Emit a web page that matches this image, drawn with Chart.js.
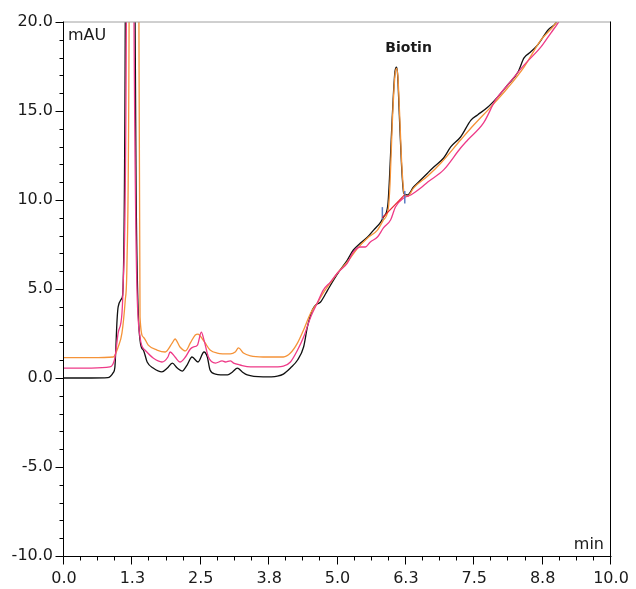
<!DOCTYPE html>
<html>
<head>
<meta charset="utf-8">
<script src="https://cdn.jsdelivr.net/npm/chart.js@4/dist/chart.umd.min.js"></script>
<style>
html,body{margin:0;padding:0;background:#fff;}
canvas{display:block;}
</style>
</head>
<body>
<canvas id="c" width="636" height="589"></canvas>
<script>
// ---- data (time in min, signal in mAU) ----
const blackT = [0.00,0.50,0.80,0.85,0.90,0.93,0.97,0.99,1.06,1.08,1.12,1.21,1.30,1.32,1.39,1.45,1.52,1.63,1.79,1.89,1.98,2.07,2.16,2.25,2.34,2.45,2.56,2.62,2.67,2.77,2.99,3.08,3.17,3.26,3.35,3.64,3.90,4.01,4.14,4.27,4.38,4.45,4.54,4.60,4.69,4.82,4.93,5.05,5.18,5.29,5.42,5.55,5.66,5.79,5.84,5.92,5.95,6.00,6.05,6.08,6.10,6.13,6.17,6.21,6.28,6.39,6.52,6.65,6.76,6.94,7.07,7.25,7.44,7.56,7.75,7.93,8.11,8.30,8.41,8.53,8.66,8.85,8.99,9.10];
const blackV = [0.00,0.00,0.02,0.10,0.30,0.60,3.26,3.99,4.49,5.11,20.0,150,20.0,10.0,2.13,1.57,0.90,0.56,0.34,0.56,0.84,0.56,0.39,0.73,1.18,0.90,1.46,1.18,0.45,0.22,0.17,0.34,0.56,0.34,0.17,0.06,0.11,0.22,0.56,1.01,1.74,2.87,3.82,4.10,4.27,4.94,5.51,6.07,6.63,7.19,7.58,7.92,8.31,8.76,9.04,9.72,11.2,14.6,17.2,17.47,17.0,14.8,12.0,10.39,10.28,10.73,11.12,11.52,11.85,12.36,12.98,13.54,14.49,14.78,15.22,15.79,16.46,17.19,17.98,18.31,18.71,19.55,19.94,20.6];

const orangeT = [0.00,0.50,0.90,0.99,1.06,1.12,1.15,1.19,1.28,1.37,1.39,1.45,1.54,1.70,1.85,1.98,2.03,2.12,2.22,2.31,2.40,2.45,2.53,2.58,2.67,2.80,3.04,3.13,3.19,3.28,3.41,3.64,4.01,4.14,4.27,4.38,4.51,4.63,4.74,4.87,5.00,5.18,5.37,5.55,5.73,5.84,5.93,5.96,6.00,6.05,6.08,6.105,6.135,6.175,6.22,6.28,6.39,6.65,6.89,7.25,7.49,7.80,8.11,8.41,8.72,8.99,9.10];
const orangeV = [1.14,1.14,1.18,1.74,2.53,4.38,6.24,20.0,150,20.0,3.43,2.30,1.85,1.57,1.46,1.97,2.19,1.74,1.52,1.97,2.42,2.47,2.19,1.97,1.57,1.40,1.35,1.46,1.69,1.40,1.24,1.18,1.18,1.40,1.97,2.70,3.65,4.21,4.78,5.34,5.90,6.52,7.30,7.87,8.31,8.88,9.55,10.9,14.2,17.0,17.4,16.9,14.9,12.0,10.35,10.2,10.67,11.35,12.08,13.37,14.21,15.22,16.29,17.47,18.99,19.94,20.6];

const pinkT = [0.00,0.50,0.84,0.93,0.99,1.06,1.08,1.14,1.21,1.28,1.39,1.48,1.63,1.79,1.90,1.94,2.03,2.12,2.22,2.31,2.36,2.44,2.51,2.56,2.64,2.77,2.89,2.95,3.04,3.10,3.22,3.41,3.77,4.01,4.14,4.27,4.38,4.51,4.63,4.74,4.87,5.00,5.18,5.29,5.42,5.51,5.60,5.73,5.84,5.97,6.06,6.21,6.34,6.52,6.65,6.94,7.25,7.38,7.67,7.89,8.11,8.41,8.72,8.90,9.03,9.15];
const pinkV = [0.56,0.56,0.62,1.12,2.53,3.65,5.11,20.0,150,20.0,2.30,1.57,1.12,0.90,1.18,1.46,1.18,0.90,1.18,1.63,1.74,1.85,2.58,2.13,1.18,0.84,0.96,0.90,0.96,0.84,0.73,0.62,0.62,0.67,0.90,1.57,2.30,3.43,4.21,4.94,5.39,5.90,6.46,7.08,7.36,7.36,7.64,7.92,8.43,8.88,9.61,10.11,10.28,10.67,11.01,11.69,12.92,13.37,14.33,15.62,16.46,17.58,18.60,19.38,19.94,20.6];

// integration baseline and delimiters of the Biotin peak
const baseT = [5.82,6.23];
const baseV = [9.0,10.3];
const mark1T = [5.82,5.82], mark1V = [8.9,9.6];
const mark2T = [6.23,6.23], mark2V = [9.8,10.5];

const peakLabels = ['Biotin'];
const peakT = [6.08];
const peakV = [17.47];

const xMajorTicks = [0,1.25,2.5,3.75,5,6.25,7.5,8.75,10];
const xTickLabels = ['0.0','1.3','2.5','3.8','5.0','6.3','7.5','8.8','10.0'];
const xMinorStep = 0.3125;
const yMajorTicks = [-10,-5,0,5,10,15,20];
const yTickLabels = ['-10.0','-5.0','0.0','5.0','10.0','15.0','20.0'];
const yMinorStep = 1;
const yUnit = 'mAU', xUnit = 'min';

const pts = (t, v) => t.map((x, i) => ({x: x, y: v[i]}));

const FONT = '"DejaVu Sans", "Liberation Sans", Arial, sans-serif';
const TXT = '#1a1a1a';

const decor = {
  id: 'decor',
  afterDraw(chart) {
    const ctx = chart.ctx, a = chart.chartArea;
    const xs = chart.scales.x, ys = chart.scales.y;
    const L = Math.round(a.left) - 0.5, R = Math.round(a.right) - 0.5;
    const T = Math.round(a.top) + 0.5, B = Math.round(a.bottom) + 0.5;
    ctx.save();
    ctx.lineWidth = 1;
    // frame
    ctx.strokeStyle = '#a0a0a0';
    ctx.beginPath(); ctx.moveTo(L, T - 0.5); ctx.lineTo(R, T - 0.5); ctx.stroke();
    ctx.strokeStyle = '#000';
    ctx.beginPath();
    ctx.moveTo(L, T - 1); ctx.lineTo(L, B);
    ctx.lineTo(R + 1, B);
    ctx.moveTo(R, T - 1); ctx.lineTo(R, B);
    ctx.stroke();
    // ticks
    ctx.beginPath();
    for (let v = xs.min; v <= xs.max + 1e-9; v += xMinorStep) {
      const px = Math.round(xs.getPixelForValue(v)) - 0.5;
      const major = xMajorTicks.some(m => Math.abs(m - v) < 1e-6);
      ctx.moveTo(px, B); ctx.lineTo(px, B + (major ? 8 : 4));
    }
    for (let v = ys.min; v <= ys.max + 1e-9; v += yMinorStep) {
      const py = Math.round(ys.getPixelForValue(v)) + 0.5;
      const major = yMajorTicks.some(m => Math.abs(m - v) < 1e-6);
      ctx.moveTo(L, py); ctx.lineTo(L - (major ? 8 : 4), py);
    }
    ctx.stroke();
    // unit labels
    ctx.fillStyle = TXT;
    ctx.font = '16px ' + FONT;
    ctx.textBaseline = 'middle';
    ctx.textAlign = 'left';
    ctx.fillText(yUnit, a.left + 4, a.top + 14);
    ctx.textAlign = 'right';
    ctx.fillText(xUnit, a.right - 7, a.bottom - 11);
    // peak labels
    ctx.font = 'bold 14px ' + FONT;
    ctx.textAlign = 'center';
    peakLabels.forEach((s, i) => {
      ctx.fillText(s, xs.getPixelForValue(peakT[i]) + 12, ys.getPixelForValue(peakV[i]) - 19);
    });
    ctx.restore();
  }
};

const line = (data, color, w) => ({
  data: data, borderColor: color, borderWidth: w, pointRadius: 0,
  fill: false, tension: 0, cubicInterpolationMode: 'monotone'
});

new Chart(document.getElementById('c'), {
  type: 'line',
  data: {
    datasets: [
      Object.assign(line(pts(baseT, baseV), '#e8202a', 1.2), {cubicInterpolationMode: 'default'}),
      Object.assign(line(pts(mark1T, mark1V), '#5a7cc4', 1.5), {cubicInterpolationMode: 'default'}),
      Object.assign(line(pts(mark2T, mark2V), '#5a7cc4', 1.5), {cubicInterpolationMode: 'default'}),
      line(pts(pinkT, pinkV), '#ee3a88', 1.3),
      line(pts(orangeT, orangeV), '#f59338', 1.3),
      line(pts(blackT, blackV), '#111111', 1.3)
    ]
  },
  options: {
    responsive: false,
    animation: false,
    layout: {padding: {top: 22, right: 25, left: 0, bottom: 0}},
    plugins: {legend: {display: false}, tooltip: {enabled: false}},
    scales: {
      x: {
        type: 'linear', min: 0, max: 10,
        afterFit(s) { s.height = 33; s.paddingLeft = 0; s.paddingRight = 0; },
        afterBuildTicks(s) { s.ticks = xMajorTicks.map(v => ({value: v})); },
        grid: {display: false, drawTicks: false},
        border: {display: false},
        ticks: {
          autoSkip: false, maxRotation: 0, padding: 13, color: TXT,
          font: {family: FONT, size: 16},
          callback: (v) => { const i = xMajorTicks.indexOf(v); return i >= 0 ? xTickLabels[i] : ''; }
        }
      },
      y: {
        type: 'linear', min: -10, max: 20,
        afterFit(s) { s.width = 64; s.paddingTop = 0; s.paddingBottom = 0; },
        afterBuildTicks(s) { s.ticks = yMajorTicks.map(v => ({value: v})); },
        grid: {display: false, drawTicks: false},
        border: {display: false},
        ticks: {
          autoSkip: false, padding: 11, color: TXT,
          font: {family: FONT, size: 16},
          callback: (v) => { const i = yMajorTicks.indexOf(v); return i >= 0 ? yTickLabels[i] : ''; }
        }
      }
    }
  },
  plugins: [decor]
});
</script>
</body>
</html>
